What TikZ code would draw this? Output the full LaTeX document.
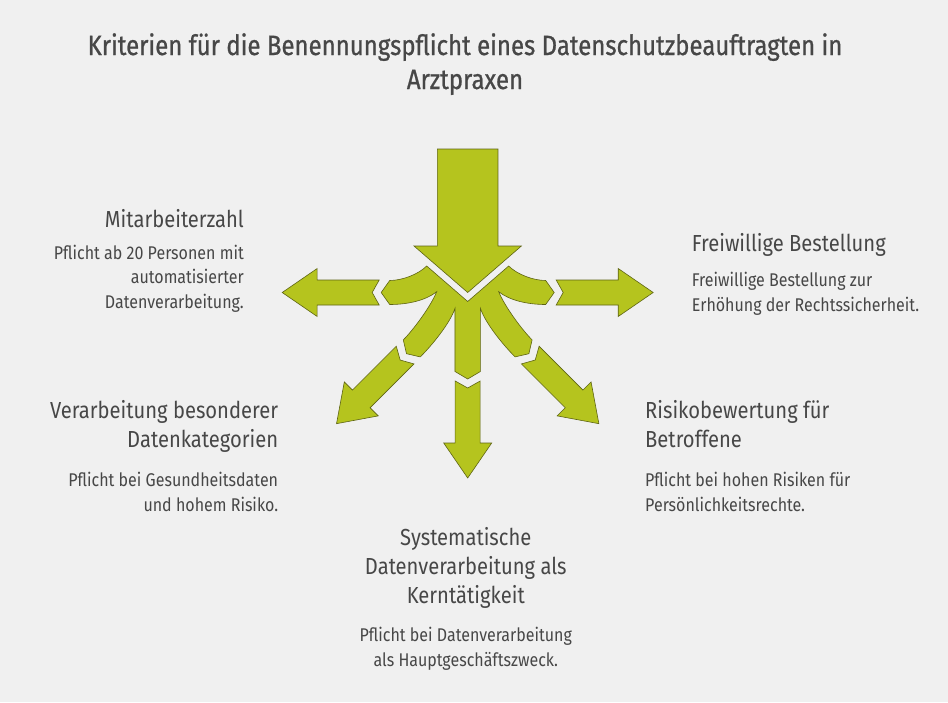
\documentclass[tikz,border=0pt]{standalone}
\usepackage{fontspec}
\setmainfont{Fira Sans}[FakeStretch=0.87]
\newfontfamily\titlefont{Fira Sans}[FakeStretch=0.86, FakeBold=0.8]
\definecolor{paper}{HTML}{F0F0F0}
\definecolor{leafgreen}{HTML}{B5C41E}
\definecolor{leafedge}{HTML}{5E6414}
\definecolor{inkgray}{HTML}{474747}

\begin{document}
\begin{tikzpicture}[x=1pt,y=1pt]
                \tikzset{leaf/.style={fill=leafgreen, draw=leafedge, line width=0.6pt, line join=miter},
                outarrow/.pic={\draw[leaf] (88.5,12.5) -- (150.5,12.5) -- (150.5,24) -- (185.5,0) -- (150.5,-24) -- (150.5,-12.5) -- (88.5,-12.5) -- (95.5,0) -- cycle;},
                headline/.style={font=\titlefont\fontsize{27.9}{34}\selectfont, text=inkgray, inner sep=0pt, align=center},
                topic/.style={font=\fontsize{23.2}{29}\selectfont, text=inkgray, inner sep=0pt},
                note/.style={font=\fontsize{18.4}{24.5}\selectfont, text=inkgray, inner sep=0pt}}

                \fill[paper] (-467.7,-409.5) rectangle (480.3,292.5);
                \useasboundingbox (-467.7,-409.5) rectangle (480.3,292.5);

                \draw[leaf] (-30.3,143.5) -- (30.3,143.5) -- (30.3,46.5) -- (53.7,46.5) -- (0,0) -- (-53.7,46.5) -- (-30.3,46.5) -- cycle;

                \draw[leaf] (-41,26.5) .. controls (-49.5,18) and (-65.7,12) .. (-78,12) -- (-86.5,0) -- (-78,-12)
                    .. controls (-60,-12) and (-42,-8) .. (-31,0.8)
                    .. controls (-37,-14) and (-54.4,-37.4) .. (-64.4,-47.4) -- (-61.2,-61.2) -- (-47.4,-64.4)
                    .. controls (-35.4,-52.4) and (-17.7,-30.8) .. (-12.7,-15.8) -- (-12.7,-79) -- (0,-86.5) -- (12.7,-79) -- (12.7,-15.8)
                    .. controls (17.7,-30.8) and (35.4,-52.4) .. (47.4,-64.4) -- (61.2,-61.2) -- (64.4,-47.4)
                    .. controls (54.4,-37.4) and (37,-14) .. (31,0.8)
                    .. controls (42,-8) and (60,-12) .. (78,-12) -- (86.5,0) -- (78,12)
                    .. controls (65.7,12) and (49.5,18) .. (41,26.5) -- (0,-9) -- cycle;

                \pic[rotate=180] {outarrow};
                \pic[rotate=225] {outarrow};
                \pic[rotate=270] {outarrow};
                \pic[rotate=315] {outarrow};
                \pic[rotate=0] {outarrow};

                \node[headline, anchor=base] (title) at (-2.7,203.5) {Kriterien für die Benennungspflicht eines Datenschutzbeauftragten in\\Arztpraxen};

                \node[topic, anchor=base east] (staff) at (-223.7,65.5) {Mitarbeiterzahl};
                \node[note, anchor=base east, align=right] (staffnote) at (-223.7,-15.5) {Pflicht ab 20 Personen mit\\automatisierter\\Datenverarbeitung.};

                \node[topic, anchor=base east, align=right] (special) at (-189.4,-154.5) {Verarbeitung besonderer\\Datenkategorien};
                \node[note, anchor=base east, align=right] (specialnote) at (-189.4,-218.5) {Pflicht bei Gesundheitsdaten\\und hohem Risiko.};

                \node[topic, anchor=base west] (voluntary) at (224,40.8) {Freiwillige Bestellung};
                \node[note, anchor=base west, align=left] (voluntarynote) at (224,-18.5) {Freiwillige Bestellung zur\\Erhöhung der Rechtssicherheit.};

                \node[topic, anchor=base west, align=left] (risk) at (177.3,-154.5) {Risikobewertung für\\Betroffene};
                \node[note, anchor=base west, align=left] (risknote) at (177.3,-218.5) {Pflicht bei hohen Risiken für\\Persönlichkeitsrechte.};

                \node[topic, anchor=base, align=center] (core) at (-1.9,-310.5) {Systematische\\Datenverarbeitung als\\Kerntätigkeit};
                \node[note, anchor=base, align=center] (corenote) at (-1.9,-373.5) {Pflicht bei Datenverarbeitung\\als Hauptgeschäftszweck.};
            \end{tikzpicture}
\end{document}
